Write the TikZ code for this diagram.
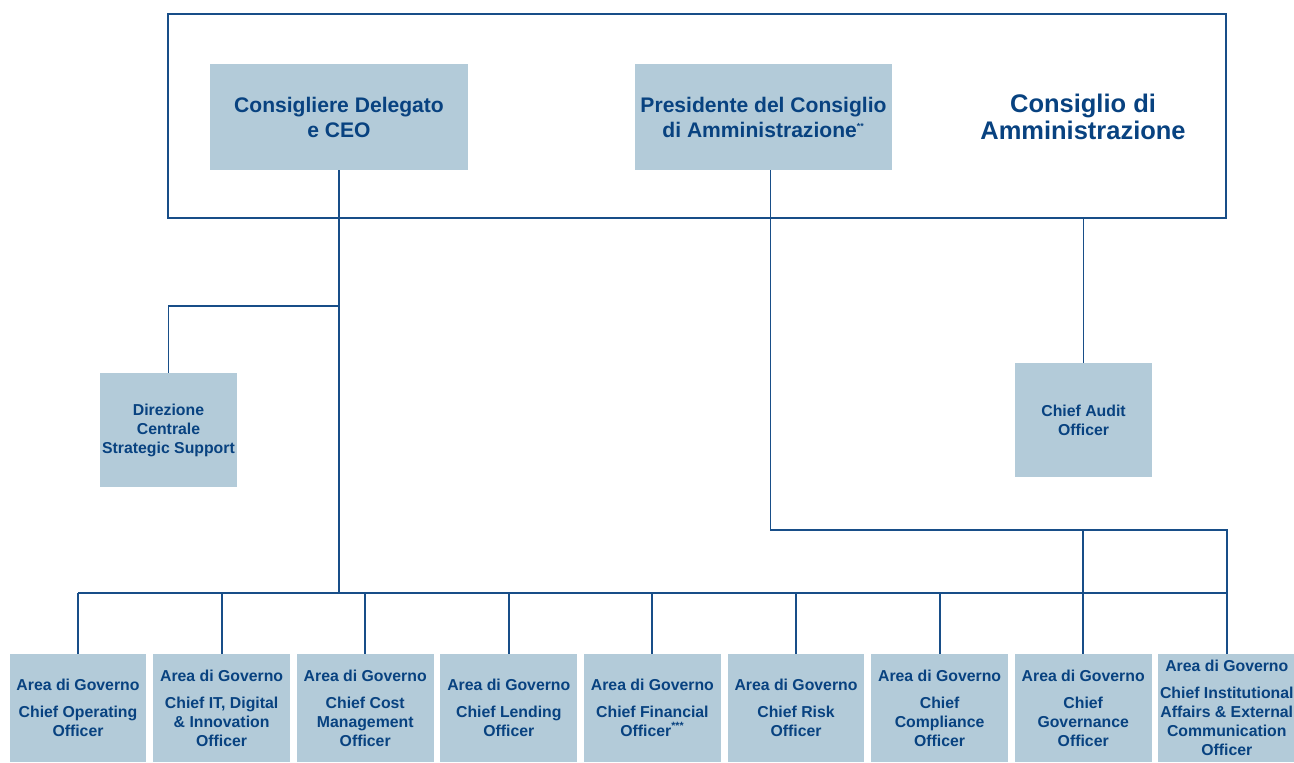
\documentclass[tikz,border=0pt]{standalone}
\usepackage{fontspec}
\setmainfont{Liberation Sans}
\usetikzlibrary{positioning,calc}
\definecolor{boxblue}{RGB}{179,203,217}
\definecolor{darkblue}{RGB}{8,66,128}
\definecolor{lineblue}{RGB}{24,78,136}

\begin{document}
\begin{tikzpicture}[x=0.02cm, y=-0.02cm,
    frame/.style={draw=lineblue, line width=1.1pt, minimum width=21.16cm, minimum height=4.08cm, inner sep=0pt},
    topbox/.style={fill=boxblue, text=darkblue, align=center, inner sep=0pt,
      font=\bfseries\fontsize{12}{14.2}\selectfont, minimum width=5.16cm, minimum height=2.12cm},
    midbox/.style={fill=boxblue, text=darkblue, align=center, inner sep=0pt,
      font=\bfseries\fontsize{9}{10.8}\selectfont, minimum width=2.74cm, minimum height=2.28cm},
    areabox/.style={fill=boxblue, text=darkblue, align=center, inner sep=0pt,
      font=\bfseries\fontsize{9}{10.8}\selectfont, minimum width=2.74cm, minimum height=2.16cm},
    link/.style={draw=lineblue, line width=1.1pt}]
    \useasboundingbox (0,0) rectangle (1294,762);

    % Consiglio di Amministrazione
    \node[frame] (cda) at (697,116) {};
    \node[text=darkblue, align=center, font=\bfseries\fontsize{14.5}{15}\selectfont] (cdatxt) at (1083,117) {Consiglio di\\Amministrazione};
    \node[topbox] (ceo) at (339,117) {Consigliere Delegato\\e CEO};
    \node[topbox] (pres) at (763.5,117) {Presidente del Consiglio\\di Amministrazione\textsuperscript{\tiny **}};

    % staff
    \node[midbox] (dir) at (168.5,430) {Direzione\\Centrale\\Strategic Support};
    \node[midbox] (audit) at (1083.5,420) {Chief Audit\\Officer};

    % aree di governo
    \node[areabox] (a1) at (78,708) {Area di Governo\\[4.5pt]Chief Operating\\Officer};
    \node[areabox] (a2) at (221.6,708) {Area di Governo\\[4.5pt]Chief IT, Digital\\\& Innovation\\Officer};
    \node[areabox] (a3) at (365.2,708) {Area di Governo\\[4.5pt]Chief Cost\\Management\\Officer};
    \node[areabox] (a4) at (508.8,708) {Area di Governo\\[4.5pt]Chief Lending\\Officer};
    \node[areabox] (a5) at (652.4,708) {Area di Governo\\[4.5pt]Chief Financial\\Officer\textsuperscript{***}};
    \node[areabox] (a6) at (796,708) {Area di Governo\\[4.5pt]Chief Risk\\Officer};
    \node[areabox] (a7) at (939.6,708) {Area di Governo\\[4.5pt]Chief\\Compliance\\Officer};
    \node[areabox] (a8) at (1083.2,708) {Area di Governo\\[4.5pt]Chief\\Governance\\Officer};
    \node[areabox] (a9) at (1226.8,708) {Area di Governo\\[4.5pt]Chief Institutional\\Affairs \& External\\Communication\\Officer};

    % collegamenti
    \coordinate (busl) at (78,593);
    \coordinate (dirk) at (339,306);
    \coordinate (presk) at (1226.8,530);
    \draw[link] (busl) -- (busl -| a9.north);
    \foreach \i in {1,...,9}
      \draw[link] (a\i.north) -- (a\i.north |- busl);
    \draw[link] (ceo.south) -- (ceo.south |- busl);
    \draw[link] (dir.north) |- (dirk);
    \draw[link] ([xshift=0.14cm]pres.south) |- (presk) -- (a9.north);
    \draw[link] (a8.north |- presk) -- (a8.north |- busl);
    \draw[link] (cda.south -| audit.north) -- (audit.north);
\end{tikzpicture}
\end{document}
